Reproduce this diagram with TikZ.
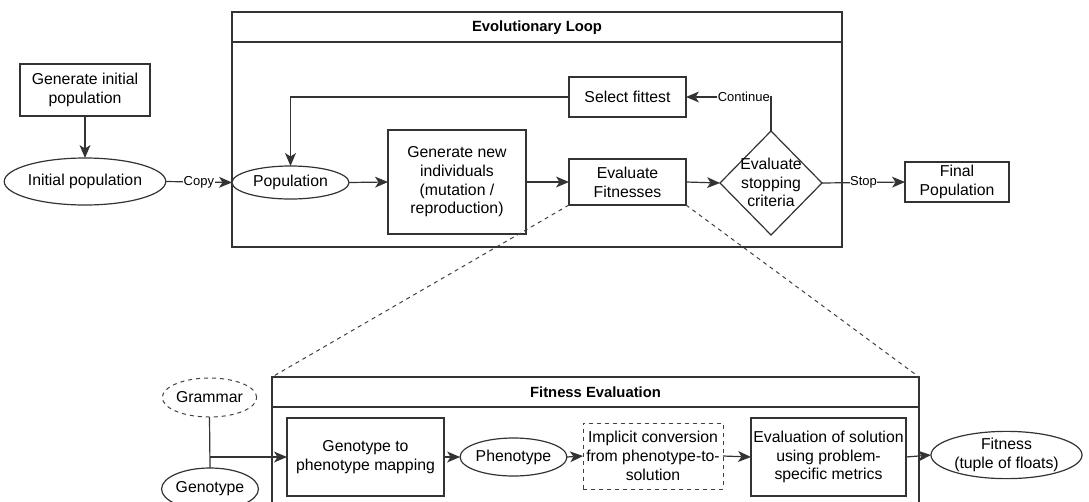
\documentclass[tikz,border=0pt]{standalone}
\usepackage{fontspec}
\setmainfont{Liberation Sans}
\usetikzlibrary{shapes.geometric,arrows.meta}
\begin{document}
\begin{tikzpicture}[x=1pt,y=-1pt,
  every node/.style={inner sep=0pt, outer sep=0pt},
  ln/.style={draw=black!80, line width=1.2pt},
  txt/.style={font=\fontsize{15.8}{18.7}\selectfont, align=center, text=black},
  box/.style={txt, ln, rectangle},
  ell/.style={txt, ln, ellipse},
  ttl/.style={font=\fontsize{14.8}{17}\selectfont\bfseries, text=black},
  lbl/.style={font=\fontsize{13}{15}\selectfont, fill=white, inner sep=0.5pt, text=black},
  arr/.style={ln, -{Stealth[length=13pt,width=11pt,inset=3.5pt,line width=0pt]}},
  dsh/.style={draw=black!75, line width=1pt, dash pattern=on 4pt off 4pt}
]
\useasboundingbox (0,0) rectangle (1089,501);
\clip (0,0) rectangle (1089,501);
% containers
\node[ln, rectangle, minimum width=610, minimum height=235] (loop) at (537,129.5) {};
\draw[ln] ([yshift=-30]loop.north west) -- ([yshift=-30]loop.north east);
\node[ttl] (looptitle) at (537,27.5) {Evolutionary Loop};
\node[ln, rectangle, minimum width=647, minimum height=143] (fe) at (595.5,448.5) {};
\draw[ln] ([yshift=-30]fe.north west) -- ([yshift=-30]fe.north east);
\node[ttl] (fetitle) at (595.5,392) {Fitness Evaluation};
% top nodes
\node[box, minimum width=130, minimum height=52] (gip) at (85,90) {Generate initial\\population};
\node[ell, minimum width=150, minimum height=47] (ip) at (85,181.5) {Initial population};
\node[ell, minimum width=117, minimum height=33, fill=white] (pop) at (290.5,182.5) {Population};
\node[box, minimum width=138, minimum height=104, fill=white] (gen) at (457,182) {Generate new\\individuals\\(mutation /\\reproduction)};
\node[box, minimum width=117, minimum height=40] (sel) at (627.5,97) {Select fittest};
\node[box, minimum width=117, minimum height=46, fill=white] (evf) at (627.5,182) {Evaluate\\Fitnesses};
\node[ln, diamond, minimum width=102, minimum height=104, fill=white] (dia) at (771,183) {};
\node[txt] (diat) at (771,182.5) {Evaluate\\stopping\\criteria};
\node[box, minimum width=104, minimum height=40] (fin) at (957,182) {Final\\Population};
% bottom nodes
\node[ell, dsh, minimum width=93, minimum height=39] (gram) at (209.5,397.5) {Grammar};
\node[ell, minimum width=91, minimum height=42] (geno) at (210,489) {Genotype};
\node[box, minimum width=157, minimum height=78] (g2p) at (365.5,457) {Genotype to\\phenotype mapping};
\node[ell, minimum width=87, minimum height=38] (phe) at (513.5,457) {Phenotype};
\node[txt, dsh, rectangle, minimum width=140, minimum height=66] (imp) at (653,456) {Implicit conversion\\from phenotype-to-\\solution};
\node[box, minimum width=155, minimum height=78] (evs) at (828.5,457) {Evaluation of solution\\using problem-\\specific metrics};
\node[ell, minimum width=151, minimum height=44] (fit) at (1006.5,455) {Fitness\\(tuple of floats)};
% zoom lines
\draw[dsh] (evf.south west) -- (fe.north west);
\draw[dsh] (evf.south east) -- (fe.north east);
% connectors top
\draw[arr] (gip.south) -- (ip.north);
\draw[arr] (ip.east) -- node[lbl] {Copy} (pop.west);
\draw[arr] (pop.east) -- (gen.west);
\draw[arr] (gen.east) -- (evf.west);
\draw[arr] (evf.east) -- (dia.west);
\draw[arr] (dia.north) |- node[lbl, pos=0.66] {Continue} (sel.east);
\draw[arr] (sel.west) -| (pop.north);
\draw[arr] (dia.east) -- node[lbl] {Stop} (fin.west);
% connectors bottom
\coordinate (j) at (gram.south |- g2p.west);
\draw[ln] (gram.south) -- (geno.north);
\draw[arr] (j) -- (g2p.west);
\draw[arr] (g2p.east) -- (phe.west);
\draw[arr] (phe.east) -- (imp.west);
\draw[arr] (imp.east) -- (evs.west);
\draw[arr] (evs.east) -- (fit.west);
\end{tikzpicture}
\end{document}
